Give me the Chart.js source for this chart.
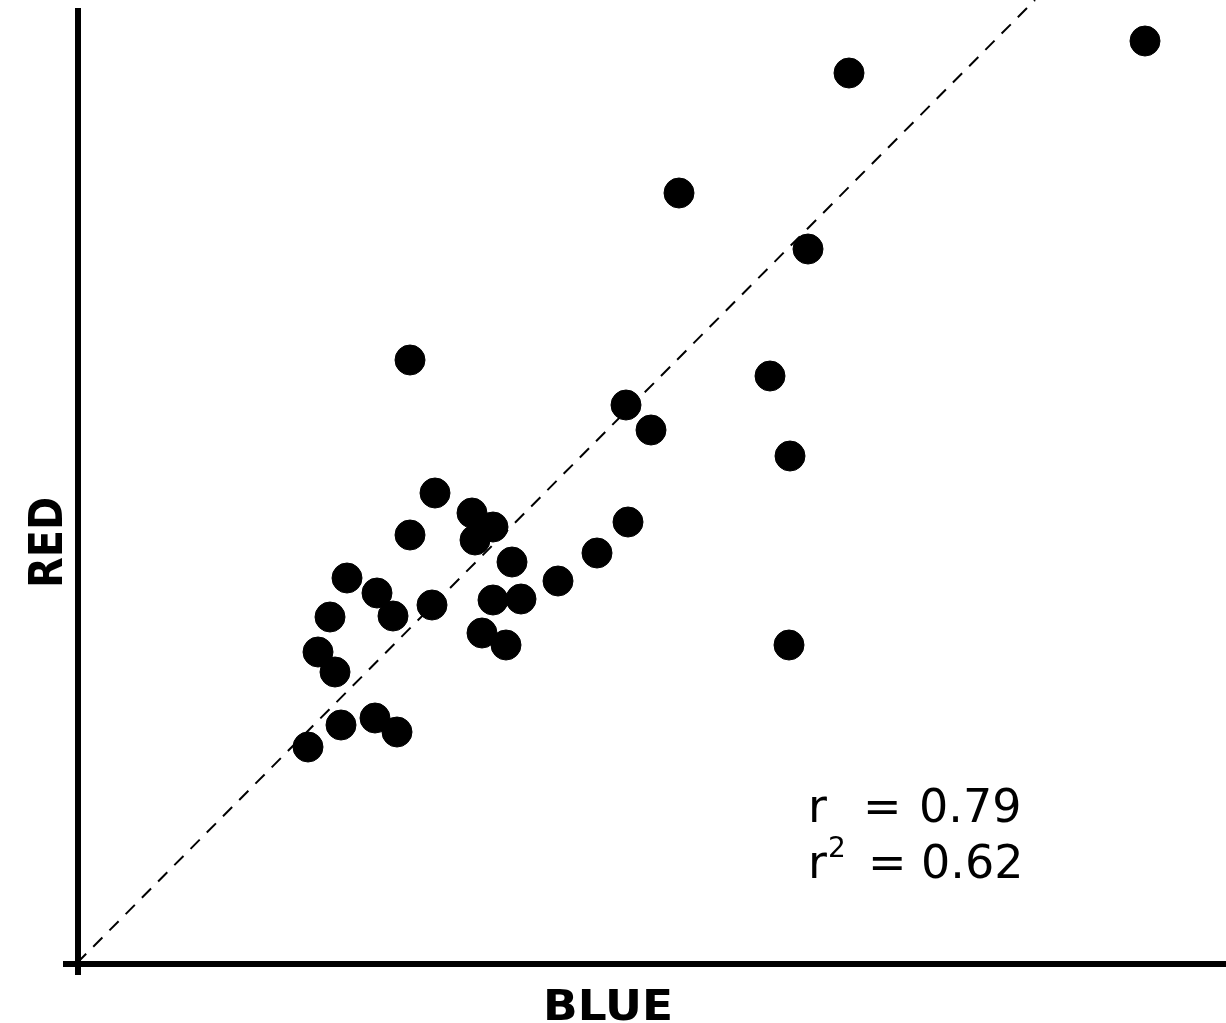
<!DOCTYPE html>
<html>
<head>
<meta charset="utf-8">
<title>RED vs BLUE</title>
<script src="https://cdn.jsdelivr.net/npm/chart.js@4.4.1/dist/chart.umd.min.js"></script>
<style>
  body { margin: 0; background: #fff; }
  #wrap { width: 1226px; height: 1023px; position: relative; }
</style>
</head>
<body>
<div id="wrap"><canvas id="scatter"></canvas></div>
<script>
// --- data (arbitrary units: 0..1149 blue, 0..963 red) ---
const blueValues = [1068, 772, 602, 731, 333, 693, 549, 574, 713, 551, 520, 712,
                    358, 395, 416, 398, 333, 435, 481, 270, 300, 316, 355, 416,
                    444, 253, 241, 258, 405, 429, 264, 298, 320, 231];
const redValues  = [922, 890, 770, 714, 603, 587, 558, 533, 507, 441, 410, 318,
                    470, 450, 436, 423, 428, 401, 382, 385, 370, 347, 358, 363,
                    364, 346, 311, 291, 330, 318, 238, 245, 231, 216];
// identity line (dashed), from the origin up to the top edge
const lineX = [0, 958];
const lineY = [0, 963];
const xMax = 1149;
const yMax = 963;

const rText = "0.79";
const r2Text = "0.62";
const xLabel = "BLUE";
const yLabel = "RED";

const points = blueValues.map((b, i) => ({ x: b, y: redValues[i] }));
const diag = lineX.map((v, i) => ({ x: v, y: lineY[i] }));

// axes, labels and r text
const decorPlugin = {
    id: "decor",
    beforeDatasetsDraw(chart) {
        const ctx = chart.ctx;
        const xs = chart.scales.x, ys = chart.scales.y;
        const x0 = xs.getPixelForValue(0);
        const y0 = ys.getPixelForValue(0);
        ctx.save();
        ctx.strokeStyle = "#000";
        ctx.lineWidth = 6;
        ctx.beginPath();
        ctx.moveTo(x0 + 1, ys.getPixelForValue(yMax) + 8);
        ctx.lineTo(x0 + 1, y0 + 12);
        ctx.moveTo(x0 - 14, y0 + 1);
        ctx.lineTo(xs.getPixelForValue(xMax), y0 + 1);
        ctx.stroke();
        ctx.restore();
    },
    afterDraw(chart) {
        const ctx = chart.ctx;
        ctx.save();
        ctx.fillStyle = "#000";
        ctx.textBaseline = "alphabetic";

        // r = ..., r^2 = ... (pieces placed like the picture's wide spacing)
        ctx.font = "46px 'DejaVu Sans'";
        ctx.fillText("r", 808, 822);
        ctx.fillText("=", 863, 822);
        ctx.fillText(rText, 919, 822);
        ctx.fillText("r", 808, 878);
        ctx.fillText("=", 868, 878);
        ctx.fillText(r2Text, 921, 878);
        ctx.font = "28px 'DejaVu Sans'";
        ctx.fillText("2", 828, 857);

        // bold axis labels, stretched to the width they take in the picture
        ctx.font = "bold 42px 'DejaVu Sans'";
        fitText(ctx, xLabel, 543, 1020, 130);

        ctx.translate(62, 588);
        ctx.rotate(-Math.PI / 2);
        ctx.font = "bold 46px 'DejaVu Sans'";
        fitText(ctx, yLabel, 0, 0, 91);
        ctx.restore();
    }
};

function fitText(ctx, text, x, y, width) {
    const w = ctx.measureText(text).width;
    ctx.save();
    ctx.translate(x, y);
    ctx.scale(width / w, 1);
    ctx.fillText(text, 0, 0);
    ctx.restore();
}

new Chart(document.getElementById("scatter"), {
    type: "scatter",
    data: {
        datasets: [
            {
                label: "samples",
                data: points,
                backgroundColor: "#000",
                borderColor: "#000",
                pointRadius: 15,
                pointHoverRadius: 15,
                order: 0
            },
            {
                type: "line",
                label: "identity",
                data: diag,
                borderColor: "#000",
                borderWidth: 2,
                borderDash: [13, 10],
                pointRadius: 0,
                fill: false,
                order: 1
            }
        ]
    },
    options: {
        responsive: true,
        maintainAspectRatio: false,
        animation: false,
        layout: { autoPadding: false, padding: { left: 77, right: 0, top: 0, bottom: 60 } },
        scales: {
            x: { type: "linear", min: 0, max: xMax, display: false },
            y: { type: "linear", min: 0, max: yMax, display: false }
        },
        plugins: {
            legend: { display: false },
            tooltip: { enabled: false }
        }
    },
    plugins: [decorPlugin]
});
</script>
</body>
</html>
